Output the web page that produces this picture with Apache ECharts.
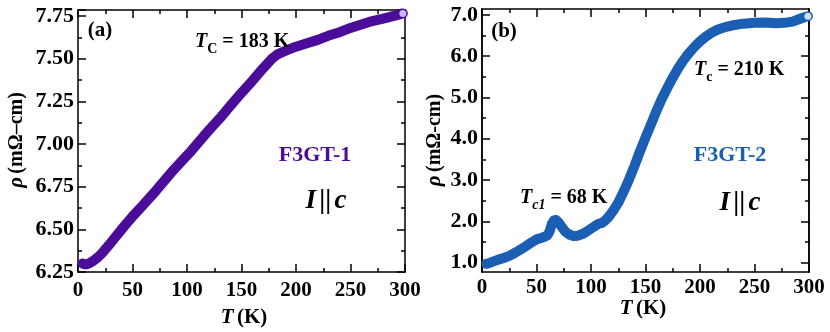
<!DOCTYPE html>
<html>
<head>
<meta charset="utf-8">
<script src="https://cdn.jsdelivr.net/npm/echarts@6/dist/echarts.min.js"></script>
<style>
  html, body { margin: 0; padding: 0; background: #fff; }
  #main { width: 830px; height: 332px; }
</style>
</head>
<body>
<div id="main"></div>
<script>
// F3GT-1, I || c
var tempA = [4, 6, 8, 10, 14, 18, 22, 28, 35, 42, 50, 58, 65, 72, 80, 88, 96, 104, 112, 120, 130, 140, 150, 160, 170, 178, 183, 190, 200, 210, 220, 230, 240, 250, 260, 270, 280, 290, 298];
var rhoA = [6.30, 6.295, 6.295, 6.30, 6.315, 6.335, 6.36, 6.405, 6.46, 6.515, 6.575, 6.63, 6.68, 6.73, 6.79, 6.85, 6.905, 6.96, 7.02, 7.08, 7.15, 7.225, 7.30, 7.37, 7.445, 7.50, 7.525, 7.545, 7.57, 7.59, 7.61, 7.635, 7.655, 7.68, 7.70, 7.72, 7.735, 7.75, 7.765];
// F3GT-2, I || c
var tempB = [4, 6, 10, 15, 20, 25, 30, 35, 40, 45, 50, 55, 58, 60, 62, 64, 66, 68, 70, 73, 76, 80, 84, 88, 92, 96, 100, 104, 107, 110, 113, 116, 120, 125, 130, 135, 140, 145, 150, 155, 160, 165, 170, 175, 180, 185, 190, 195, 200, 205, 210, 215, 220, 225, 230, 240, 250, 260, 270, 280, 285, 290, 295, 299];
var rhoB = [0.97, 0.98, 1.02, 1.07, 1.11, 1.16, 1.23, 1.31, 1.39, 1.48, 1.56, 1.60, 1.63, 1.66, 1.75, 1.93, 2.02, 2.03, 1.98, 1.87, 1.76, 1.68, 1.64, 1.65, 1.69, 1.75, 1.82, 1.89, 1.94, 1.96, 2.02, 2.10, 2.24, 2.45, 2.72, 3.02, 3.35, 3.70, 4.03, 4.35, 4.67, 4.97, 5.23, 5.48, 5.71, 5.91, 6.08, 6.23, 6.36, 6.47, 6.56, 6.63, 6.68, 6.72, 6.75, 6.79, 6.81, 6.82, 6.80, 6.82, 6.84, 6.89, 6.94, 6.97];

var xTicks = [0, 300, 50];
var yTicksA = [6.25, 7.785, 0.25];
var yRangeB = [0.77, 7.145];
var yMajorB = [1, 2, 3, 4, 5, 6, 7];
var yMinorB = [1.5, 2.5, 3.5, 4.5, 5.5, 6.5];

var purple = '#4b0c99';
var blue = '#1a5fb4';
var serif = '"Liberation Serif", "Times New Roman", serif';

var myChart = echarts.init(document.getElementById('main'));

function pairs(xs, ys) {
    var out = [];
    for (var i = 0; i < xs.length; i++) out.push([xs[i], ys[i]]);
    return out;
}

function onTick(v, step) {
    return Math.abs(v / step - Math.round(v / step)) < 1e-6;
}

function axisBase(grid, pos, showLabel, fontSize) {
    return {
        type: 'value',
        gridIndex: grid,
        position: pos,
        axisLine: { show: true, onZero: false, lineStyle: { color: '#000', width: 1.5 } },
        axisTick: { show: true, inside: true, length: 8, lineStyle: { color: '#000', width: 1.5 } },
        minorTick: { show: true, splitNumber: 2, length: 4, lineStyle: { color: '#000', width: 1.5 } },
        splitLine: { show: false },
        axisLabel: { show: showLabel, color: '#000', fontFamily: serif, fontWeight: 'bold', fontSize: fontSize }
    };
}

function xAxisFor(grid, pos, showLabel, margin) {
    var a = axisBase(grid, pos, showLabel, 21);
    a.min = xTicks[0]; a.max = xTicks[1]; a.interval = xTicks[2];
    a.axisLabel.margin = margin;
    return a;
}

function yAxisA(pos, showLabel) {
    var a = axisBase(0, pos, showLabel, 22);
    a.min = yTicksA[0]; a.max = yTicksA[1]; a.interval = yTicksA[2];
    a.axisLabel.margin = 4;
    a.axisLabel.formatter = function (v) { return onTick(v, yTicksA[2]) ? v.toFixed(2) : ''; };
    return a;
}

// grid b: range does not start on a tick, so ticks are listed explicitly
function yAxisB(pos, showLabel, values, len) {
    var a = axisBase(1, pos, showLabel, 22);
    a.min = yRangeB[0]; a.max = yRangeB[1];
    a.minorTick.show = false;
    a.axisTick.customValues = values;
    a.axisTick.length = len;
    a.axisLabel.customValues = values;
    a.axisLabel.margin = 4;
    a.axisLabel.formatter = function (v) { return v.toFixed(1); };
    return a;
}

function curve(xi, yi, data, color, tip) {
    return {
        type: 'line',
        xAxisIndex: xi,
        yAxisIndex: yi,
        data: data,
        showSymbol: true,
        symbol: 'circle',
        symbolSize: function (v, p) { return p.dataIndex === data.length - 1 ? 7 : 0; },
        itemStyle: { color: tip, borderWidth: 0 },
        lineStyle: { color: color, width: 10, cap: 'round', join: 'round' },
        z: 3,
        silent: true
    };
}

var bold = { fontFamily: serif, fontWeight: 'bold', fontSize: 20, fill: '#000' };

function txt(x, y, text, extra) {
    var style = Object.assign({}, bold, { text: text, align: 'center', verticalAlign: 'middle' }, extra || {});
    return { type: 'text', x: x, y: y, style: style, z: 10 };
}

function rhoTitle(x, y, dash) {
    return {
        type: 'text', x: x, y: y, rotation: Math.PI / 2, z: 10,
        style: {
            text: '{i|ρ} {n|(mΩ' + dash + 'cm)}', align: 'center', verticalAlign: 'middle',
            rich: {
                i: { fontFamily: serif, fontWeight: 'bold', fontStyle: 'italic', fontSize: 21, fill: '#000' },
                n: { fontFamily: serif, fontWeight: 'bold', fontSize: 20, fill: '#000' }
            }
        }
    };
}

function tTitle(x, y) {
    return {
        type: 'text', x: x, y: y, z: 10,
        style: {
            text: '{i|T} {n|(K)}', align: 'center', verticalAlign: 'middle',
            rich: {
                i: { fontFamily: serif, fontWeight: 'bold', fontStyle: 'italic', fontSize: 21, fill: '#000' },
                n: { fontFamily: serif, fontWeight: 'bold', fontSize: 21, fill: '#000' }
            }
        }
    };
}

function tcLabel(x, y, sub, rest, subItalic) {
    return {
        type: 'text', x: x, y: y, z: 10,
        style: {
            text: '{i|T}{s|' + sub + '}{n|' + rest + '}', align: 'left', verticalAlign: 'middle',
            rich: {
                i: { fontFamily: serif, fontWeight: 'bold', fontStyle: 'italic', fontSize: 20, fill: '#000', lineHeight: 28 },
                s: { fontFamily: serif, fontWeight: 'bold', fontStyle: subItalic ? 'italic' : 'normal', fontSize: 14, fill: '#000', verticalAlign: 'bottom', lineHeight: 14 },
                n: { fontFamily: serif, fontWeight: 'bold', fontSize: 20, fill: '#000', lineHeight: 28 }
            }
        }
    };
}

function iParC(x, y) {
    return {
        type: 'text', x: x, y: y, z: 10,
        style: {
            text: '{i|I} {n|||} {i|c}', align: 'center', verticalAlign: 'middle',
            rich: {
                i: { fontFamily: serif, fontWeight: 'bold', fontStyle: 'italic', fontSize: 27, fill: '#000' },
                n: { fontFamily: serif, fontWeight: 'bold', fontSize: 27, fill: '#000' }
            }
        }
    };
}

var option = {
    animation: false,
    backgroundColor: '#fff',
    grid: [
        { left: 78, top: 10, width: 327, height: 262 },
        { left: 482, top: 9, width: 327, height: 263 }
    ],
    xAxis: [
        xAxisFor(0, 'bottom', true, 8),
        xAxisFor(0, 'top', false, 8),
        xAxisFor(1, 'bottom', true, 5),
        xAxisFor(1, 'top', false, 5)
    ],
    yAxis: [
        yAxisA('left', true),
        yAxisA('right', false),
        yAxisB('left', true, yMajorB, 8),
        yAxisB('right', false, yMajorB, 8),
        yAxisB('left', false, yMinorB, 4),
        yAxisB('right', false, yMinorB, 4)
    ],
    series: [
        curve(0, 0, pairs(tempA, rhoA), purple, '#c9b8ff'),
        curve(2, 2, pairs(tempB, rhoB), blue, '#cfe0ff')
    ],
    graphic: [
        txt(100, 31, '(a)', { fontSize: 21 }),
        tcLabel(195, 42, 'C', ' = 183 K', false),
        txt(315, 155, 'F3GT-1', { fontSize: 22, fill: purple }),
        iParC(326, 201),
        rhoTitle(17, 140, '–'),
        tTitle(244, 318),
        txt(504, 32, '(b)', { fontSize: 21 }),
        tcLabel(694, 70, 'c', ' = 210 K', false),
        txt(730, 155, 'F3GT-2', { fontSize: 22, fill: blue }),
        tcLabel(520, 198, 'c1', ' = 68 K', true),
        iParC(740, 203),
        rhoTitle(435, 140, '-'),
        tTitle(643, 309)
    ]
};

myChart.setOption(option);
</script>
</body>
</html>
